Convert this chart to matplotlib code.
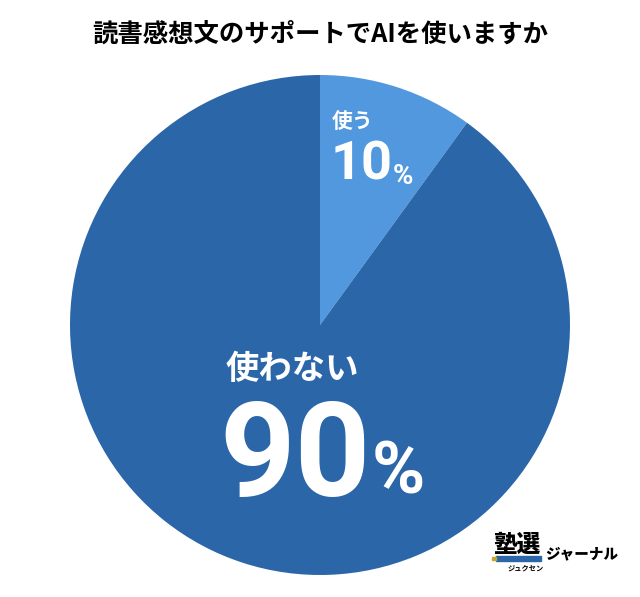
import matplotlib
matplotlib.use('Agg')
import matplotlib.pyplot as plt
from matplotlib.patches import Rectangle

plt.rcParams['font.family'] = ['Noto Sans CJK JP', 'DejaVu Sans']

title = '読書感想文のサポートでAIを使いますか'
labels = ['使う', '使わない']
values = [10, 90]
colors = ['#5298DF', '#2B66A9']

W, H = 640, 597
fig = plt.figure(figsize=(W / 100, H / 100), dpi=100)

# pie fills a square axes, circle centre 320,325 radius 250 in pixels
ax = fig.add_axes([70 / W, 1 - 575 / H, 500 / W, 500 / H])
ax.pie(values, colors=colors, startangle=90, counterclock=False, radius=1)
ax.set_xlim(-1, 1)
ax.set_ylim(-1, 1)
ax.set_aspect('equal')


def px(x, y, s, size, **kw):
    fig.text(x / W, 1 - y / H, s, fontsize=size, va='center', **kw)


px(320, 34, title, 18.3, ha='center', weight='bold', color='black')

px(332, 121, labels[0], 15, color='white', weight='bold')
px(331, 165, '10', 39, color='white', family='Roboto', weight='bold')
px(393, 176, '%', 20, color='white', family='Roboto', weight='bold')

px(226, 369, labels[1], 24, color='white', weight='bold')
px(219, 460, '90', 95, color='white', family='Roboto', weight='bold')
px(372, 474, '%', 52, color='white', family='Roboto', weight='bold')

# logo
px(517, 545, '塾選', 17, ha='center', weight='black', color='black')
fig.patches.append(Rectangle((496 / W, 1 - 561 / H), 45 / W, 5 / H, transform=fig.transFigure, color='#2B66A9'))
fig.patches.append(Rectangle((492 / W, 1 - 560 / H), 4 / W, 3 / H, transform=fig.transFigure, color='#C9A227'))
px(526, 568, 'ジュクセン', 5.2, ha='center', weight='bold', color='black')
px(582, 554, 'ジャーナル', 10.5, ha='center', weight='black', color='black')

fig.savefig('out.png', dpi=100)
